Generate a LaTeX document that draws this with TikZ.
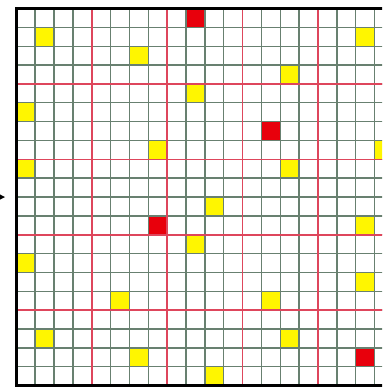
\documentclass[tikz,border=0pt]{standalone}
\usetikzlibrary{arrows.meta}
\definecolor{gridgreen}{RGB}{104,128,112}
\definecolor{blockred}{RGB}{222,70,92}
\definecolor{pilotyellow}{RGB}{255,246,0}
\definecolor{pilotred}{RGB}{232,0,12}

\begin{document}
\begin{tikzpicture}[
      x=18.85pt, y=-18.85pt,
      cellline/.style={draw=gridgreen, line width=1.4pt},
      blockline/.style={draw=blockred, line width=1.6pt},
      frame/.style={draw=black, line width=3pt},
      yellowcell/.style={fill=pilotyellow},
      redcell/.style={fill=pilotred},
      inarrow/.style={-{Latex[length=9pt,width=11pt]}, line width=2pt}
  ]
  \useasboundingbox (-0.865,-0.451) rectangle (19.40,20.13);
  \clip (-0.865,-0.451) rectangle (19.40,20.13);
  % coloured cells (col,row)
  \foreach \c/\r in {1/1,6/2,14/3,9/4,0/5,7/7,19/7,0/8,14/8,18/1,10/10,
                     18/11,9/12,0/13,18/14,5/15,13/15,1/17,14/17,6/18,10/19}
      \fill[yellowcell] (\c,\r) rectangle ++(1,1);
  \foreach \c/\r in {9/0,13/6,7/11,18/18}
      \fill[redcell] (\c,\r) rectangle ++(1,1);
  % fine grid
  \foreach \i in {1,...,19} {
      \draw[cellline] (\i,0) -- (\i,20);
      \draw[cellline] (0,\i) -- (20,\i);
  }
  % 4x4 blocks
  \foreach \i in {4,8,12,16} {
      \draw[blockline] (\i,0) -- (\i,20);
      \draw[blockline] (0,\i) -- (20,\i);
  }
  \draw[frame] (0,0) rectangle (20,20);
  % incoming arrow
  \coordinate (arrfrom) at (-1.6,10);
  \coordinate (arrto) at (-0.58,10);
  \draw[inarrow] (arrfrom) -- (arrto);
\end{tikzpicture}
\end{document}
